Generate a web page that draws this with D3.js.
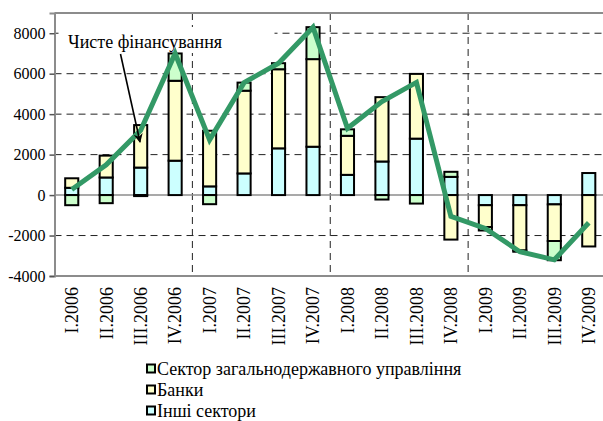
<!DOCTYPE html>
<html>
<head>
<meta charset="utf-8">
<script src="https://cdn.jsdelivr.net/npm/d3@7"></script>
<style>
    body { margin: 0; background: #fff; }
    #chart { width: 603px; height: 421px; }
    text { font-family: "Liberation Serif", "Times New Roman", serif; fill: #000; }
</style>
</head>
<body>
<div id="chart"></div>
<script>
// Quarters
const categories = ["I.2006", "II.2006", "III.2006", "IV.2006",
                    "I.2007", "II.2007", "III.2007", "IV.2007",
                    "I.2008", "II.2008", "III.2008", "IV.2008",
                    "I.2009", "II.2009", "III.2009", "IV.2009"];

// Series values
const govSector = [-500, -400, -50, 1350, -450, 400, 300, 1580, 320, -220, -420, 250, -170, -60, -950, 0];
const banks = [470, 1080, 2100, 3950, 2750, 4090, 3910, 4330, 1930, 3180, 3200, -2200, -1080, -2240, -1810, -2540];
const otherSectors = [360, 870, 1360, 1700, 430, 1070, 2310, 2390, 1000, 1660, 2790, 900, -500, -500, -460, 1090];
const netFinancing = [280, 1500, 3200, 7000, 2730, 5560, 6520, 8300, 3300, 4620, 5570, -1050, -1650, -2800, -3200, -1370];

const yTicks = [-4000, -2000, 0, 2000, 4000, 6000, 8000];

const seriesNames = ["Сектор загальнодержавного управління", "Банки", "Інші сектори"];
const seriesColors = ["#ccffcc", "#ffffcc", "#ccffff"];
const lineLabel = "Чисте фінансування";

setupGraph();

function setupGraph() {
    const margin = {top: 13, right: -3, bottom: 145, left: 54.5};
    const fullWidth = 603, fullHeight = 421;
    const width = fullWidth - margin.left - margin.right;
    const height = fullHeight - margin.top - margin.bottom;

    const svg = d3.select("#chart").append("svg")
        .attr("width", fullWidth)
        .attr("height", fullHeight)
        .style("overflow", "hidden")
      .append("g")
        .attr("transform", `translate(${margin.left},${margin.top})`);

    // Scales
    const x = d3.scaleBand()
        .domain(categories)
        .range([0, width])
        .paddingInner(0.62)
        .paddingOuter(0.31);

    const y = d3.scaleLinear()
        .domain([-4000, 9000])
        .range([height, 0]);

    const cx = d => x(d) + x.bandwidth() / 2;

    // Horizontal dashed gridlines
    svg.append("g")
        .selectAll("line")
        .data(yTicks.filter(d => d !== 0 && d !== -4000))
        .join("line")
        .attr("x1", 0)
        .attr("x2", width)
        .attr("y1", d => y(d))
        .attr("y2", d => y(d))
        .attr("stroke", "#222")
        .attr("stroke-width", 1)
        .attr("stroke-dasharray", "7,5");

    // Vertical dashed separators between years
    const step = x.step();
    svg.append("g")
        .selectAll("line")
        .data([4, 8, 12])
        .join("line")
        .attr("x1", d => cx(categories[d]) - step / 2)
        .attr("x2", d => cx(categories[d]) - step / 2)
        .attr("y1", 0)
        .attr("y2", height)
        .attr("stroke", "#222")
        .attr("stroke-width", 1)
        .attr("stroke-dasharray", "7,5");

    // White box behind the annotation label
    svg.append("rect")
        .attr("x", 4)
        .attr("y", 14)
        .attr("width", 216)
        .attr("height", 26)
        .attr("fill", "#fff");

    // Plot area frame (top and bottom) and zero line
    svg.append("line")
        .attr("x1", 0).attr("x2", width)
        .attr("y1", 0).attr("y2", 0)
        .attr("stroke", "#8c8c8c").attr("stroke-width", 2);
    svg.append("line")
        .attr("x1", 0).attr("x2", width)
        .attr("y1", height).attr("y2", height)
        .attr("stroke", "#8c8c8c").attr("stroke-width", 2);
    svg.append("line")
        .attr("x1", 0).attr("x2", width)
        .attr("y1", y(0)).attr("y2", y(0))
        .attr("stroke", "#8c8c8c").attr("stroke-width", 1.5);

    // Stacked bars
    const table = categories.map((c, i) => ({
        cat: c,
        other: otherSectors[i],
        banks: banks[i],
        gov: govSector[i]
    }));
    const keys = ["other", "banks", "gov"];
    const colorOf = {gov: seriesColors[0], banks: seriesColors[1], other: seriesColors[2]};

    const stacked = d3.stack()
        .keys(keys)
        .offset(d3.stackOffsetDiverging)(table);

    svg.append("g")
        .selectAll("g")
        .data(stacked)
        .join("g")
        .attr("fill", d => colorOf[d.key])
        .selectAll("rect")
        .data(d => d.filter(p => p[1] !== p[0]))
        .join("rect")
        .attr("x", d => x(d.data.cat))
        .attr("y", d => y(Math.max(d[0], d[1])))
        .attr("width", x.bandwidth())
        .attr("height", d => Math.abs(y(d[0]) - y(d[1])))
        .attr("stroke", "#000")
        .attr("stroke-width", 2);

    // Net financing line
    const line = d3.line()
        .x((d, i) => cx(categories[i]))
        .y(d => y(d));

    svg.append("path")
        .datum(netFinancing)
        .attr("d", line)
        .attr("fill", "none")
        .attr("stroke", "#339966")
        .attr("stroke-width", 5)
        .attr("stroke-linejoin", "miter");

    // Y axis
    const yAxis = svg.append("g")
        .call(d3.axisLeft(y).tickValues(yTicks).tickSize(5).tickPadding(4).tickFormat(d3.format("d")));
    yAxis.select(".domain").attr("stroke", "#8c8c8c").attr("stroke-width", 2);
    yAxis.selectAll(".tick line").attr("stroke", "#555").attr("stroke-width", 1.5);
    yAxis.selectAll(".tick text")
        .attr("font-size", "16px")
        .attr("fill", "#000")
        .text(d => d < 0 ? "-" + Math.abs(d) : d);

    // X labels, rotated
    svg.append("g")
        .selectAll("text")
        .data(categories)
        .join("text")
        .attr("transform", d => `translate(${cx(d)},${height + 11}) rotate(-90)`)
        .attr("dy", "0.35em")
        .attr("text-anchor", "end")
        .attr("font-size", "18px")
        .text(d => d);

    // Annotation with arrow
    svg.append("defs").append("marker")
        .attr("id", "arrowHead")
        .attr("viewBox", "0 0 10 10")
        .attr("refX", 9)
        .attr("refY", 5)
        .attr("markerWidth", 14)
        .attr("markerHeight", 9)
        .attr("markerUnits", "userSpaceOnUse")
        .attr("orient", "auto")
      .append("path")
        .attr("d", "M0,0 L10,5 L0,10 L3,5 Z")
        .attr("fill", "#000");

    svg.append("text")
        .attr("x", 13.5)
        .attr("y", 35)
        .attr("font-size", "18px")
        .text(lineLabel);

    svg.append("line")
        .attr("x1", 66)
        .attr("y1", 41)
        .attr("x2", 85.5)
        .attr("y2", 129)
        .attr("stroke", "#000")
        .attr("stroke-width", 1.6)
        .attr("marker-end", "url(#arrowHead)");

    // Legend
    const legend = d3.select("#chart svg").append("g")
        .attr("transform", "translate(146,363.5)");

    const rows = legend.selectAll("g")
        .data(seriesNames)
        .join("g")
        .attr("transform", (d, i) => `translate(0,${i * 21})`);

    rows.append("rect")
        .attr("x", 1)
        .attr("y", 1)
        .attr("width", 8)
        .attr("height", 8)
        .attr("fill", (d, i) => seriesColors[i])
        .attr("stroke", "#000")
        .attr("stroke-width", 2);

    rows.append("text")
        .attr("x", 11)
        .attr("y", 5)
        .attr("dy", "0.35em")
        .attr("font-size", "18px")
        .text(d => d);
}
</script>
</body>
</html>
